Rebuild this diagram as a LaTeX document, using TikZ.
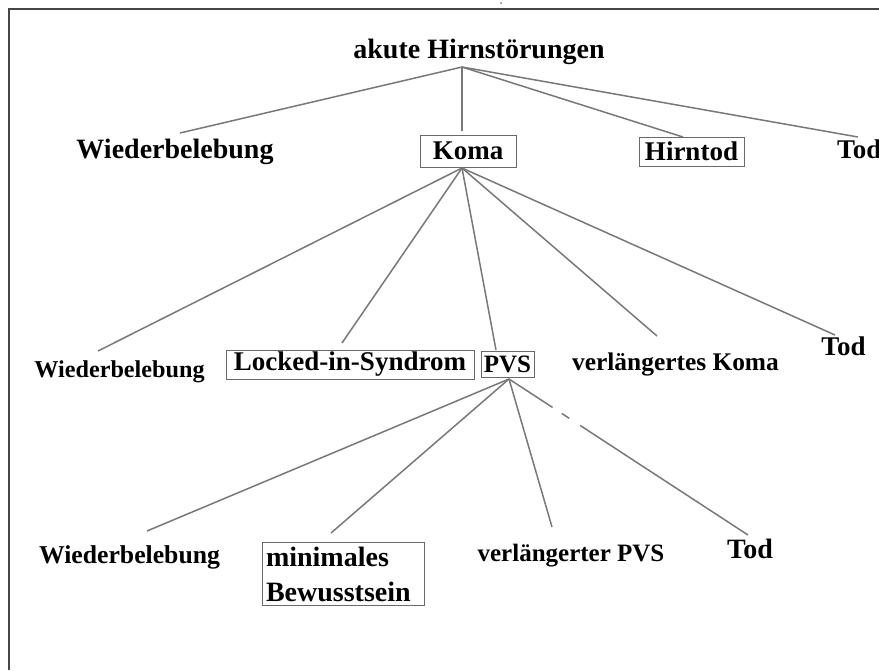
\documentclass[tikz,border=0pt]{standalone}
\usepackage{fontspec}
\setmainfont{Liberation Serif}
\newcommand{\fz}[1]{\fontsize{#1}{#1}\selectfont}
\definecolor{linegray}{RGB}{120,120,120}
\definecolor{framegray}{RGB}{70,70,70}
\definecolor{boxgray}{RGB}{105,105,105}
\begin{document}
\begin{tikzpicture}[x=1pt,y=-1pt,
  lbl/.style={inner sep=0pt},
  box/.style={draw=boxgray, line width=1pt, inner sep=0pt},
  conn/.style={draw=linegray, line width=1.5pt}]
\useasboundingbox (0,0) rectangle (879,670);
% frame
\draw[framegray, line width=2.2pt] (9,670) -- (9,9) -- (879,9);
\fill[linegray] (501,3) circle (1);
% level 0
\node[lbl, anchor=base, font=\bfseries\fz{28}] (root) at (479,58) {akute Hirnstörungen};
% level 1
\node[lbl, anchor=base, font=\bfseries\fz{28}] (wb1) at (175,158) {Wiederbelebung};
\node[box, minimum width=96pt, minimum height=32pt, font=\bfseries\fz{27}] (koma) at (468,151) {Koma};
\node[box, minimum width=105pt, minimum height=29pt, font=\bfseries\fz{27}] (hirntod) at (691.5,151.5) {Hirntod};
\node[lbl, anchor=base west, font=\bfseries\fz{27}] (tod1) at (837,158) {Tod};
% level 2
\node[lbl, anchor=base, font=\bfseries\fz{24.2}] (wb2) at (119.5,377) {Wiederbelebung};
\node[box, minimum width=248pt, minimum height=29pt, font=\bfseries\fz{27}] (lis) at (350,364.5) {Locked-in-Syndrom};
\node[box, minimum width=53pt, minimum height=26pt, font=\bfseries\fz{25}] (pvs) at (507.5,364) {PVS};
\node[lbl, anchor=base, font=\bfseries\fz{25.4}] (vk) at (675.5,370) {verlängertes Koma};
\node[lbl, anchor=base, font=\bfseries\fz{27}] (tod2) at (843.5,355) {Tod};
% level 3
\node[lbl, anchor=base, font=\bfseries\fz{25.7}] (wb3) at (129.5,563) {Wiederbelebung};
\node[box, minimum width=162pt, minimum height=63pt, text width=154pt, inner xsep=4pt, align=left,
      font=\bfseries\fontsize{28}{35}\selectfont] (mb) at (343,574) {minimales\\Bewusstsein};
\node[lbl, anchor=base, font=\bfseries\fz{25}] (vpvs) at (571,561) {verlängerter PVS};
\node[lbl, anchor=base, font=\bfseries\fz{28}] (tod3) at (750,558) {Tod};
% connector points
\coordinate (rj) at (462,67);
\coordinate (ewb1) at (180,133);
\coordinate (ekoma) at (462,131);
\coordinate (ehirn) at (683,137);
\coordinate (etod1) at (858,137);
\coordinate (kj) at (462,168);
\coordinate (ewb2) at (98,351);
\coordinate (elis) at (342,343);
\coordinate (epvs) at (496,350);
\coordinate (evk) at (657,336);
\coordinate (etod2) at (835,335);
\coordinate (pj) at (509,379);
\coordinate (ewb3) at (147,531);
\coordinate (emb) at (331,533);
\coordinate (evpvs) at (552,527);
\coordinate (etod3) at (748,535);
% connectors
\draw[conn] (rj) -- (ewb1);
\draw[conn] (rj) -- (ekoma);
\draw[conn] (rj) -- (ehirn);
\draw[conn] (rj) -- (etod1);
\draw[conn] (kj) -- (ewb2);
\draw[conn] (kj) -- (elis);
\draw[conn] (kj) -- (epvs);
\draw[conn] (kj) -- (evk);
\draw[conn] (kj) -- (etod2);
\draw[conn] (pj) -- (ewb3);
\draw[conn] (pj) -- (emb);
\draw[conn] (pj) -- (evpvs);
\draw[conn, dash pattern=on 52pt off 11pt on 9pt off 13pt on 400pt] (pj) -- (etod3);
\end{tikzpicture}
\end{document}
